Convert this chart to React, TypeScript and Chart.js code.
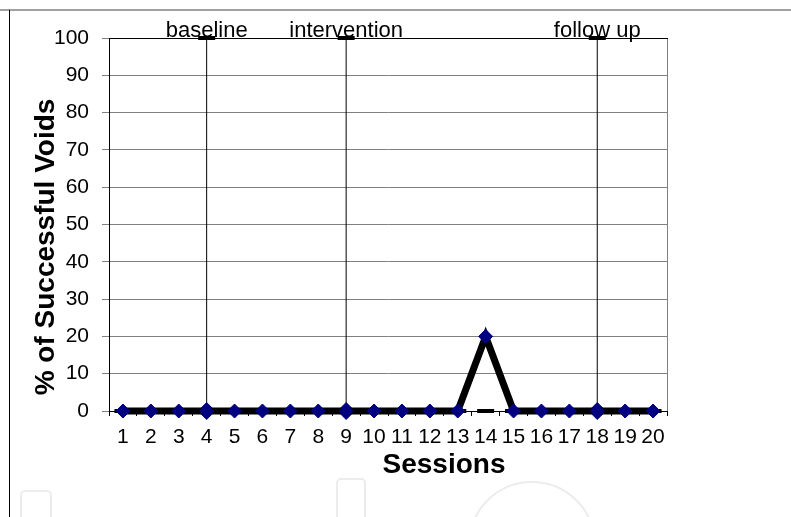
import React, { useEffect, useRef } from "react";
import { Chart, registerables } from "chart.js";

Chart.register(...registerables);

const sessions = ["1","2","3","4","5","6","7","8","9","10","11","12","13","14","15","16","17","18","19","20"];
const successfulVoids = [0,0,0,0,0,0,0,0,0,0,0,0,0,20,0,0,0,0,0,0];
const zeroMarks = [0,0,0,0,0,0,0,0,0,0,0,0,0,0,0,0,0,0,0,0];
const phaseChangeSessions = ["4", "9", "18"];
const phaseLabels = ["baseline", "intervention", "follow up"];
const yTitle = "% of Successful Voids";
const xTitle = "Sessions";

const FONT = '"Liberation Sans", Arial, Helvetica, sans-serif';

export default function App() {
  const ref = useRef<HTMLCanvasElement | null>(null);

  useEffect(() => {
    if (!ref.current) return;

    const phaseDatasets = phaseChangeSessions.map((s) => ({
      label: "phase " + s,
      data: [ { x: s, y: 0 }, { x: s, y: 100 } ],
      borderColor: "#000000",
      borderWidth: 1,
      showLine: true,
      pointStyle: ["rectRot", "line"] as any,
      pointRadius: [8.5, 8.5],
      pointBorderWidth: [1, 4],
      pointBackgroundColor: ["#000080", "#000000"],
      pointBorderColor: ["#000080", "#000000"],
      clip: false as any,
      order: 3,
    }));

    const labelPlugin = {
      id: "customText",
      beforeDatasetsDraw(chart: any) {
        const { ctx, chartArea } = chart;
        ctx.save();
        ctx.lineWidth = 1;
        ctx.strokeStyle = "#808080";
        ctx.beginPath();
        ctx.moveTo(chartArea.right + 0.5, chartArea.top);
        ctx.lineTo(chartArea.right + 0.5, chartArea.bottom);
        ctx.stroke();
        ctx.strokeStyle = "#000000";
        ctx.beginPath();
        ctx.moveTo(chartArea.left, chartArea.top + 0.5);
        ctx.lineTo(chartArea.right + 1, chartArea.top + 0.5);
        ctx.stroke();
        ctx.restore();
      },
      afterDraw(chart: any) {
        const { ctx, chartArea, scales } = chart;
        ctx.save();
        ctx.fillStyle = "#000000";
        // phase labels
        ctx.font = "22px " + FONT;
        ctx.textAlign = "center";
        ctx.textBaseline = "alphabetic";
        phaseChangeSessions.forEach((s, i) => {
          const x = scales.x.getPixelForValue(sessions.indexOf(s));
          ctx.fillText(phaseLabels[i], x, chartArea.top - 1);
        });
        // axis titles
        ctx.font = "bold 28px " + FONT;
        ctx.textBaseline = "middle";
        ctx.fillText(xTitle, 444, 465);
        ctx.translate(46, 247);
        ctx.rotate(-Math.PI / 2);
        ctx.fillText(yTitle, 0, 0);
        ctx.restore();
      },
    };

    const chart = new Chart(ref.current, {
      type: "line",
      data: {
        labels: sessions,
        datasets: [
          {
            label: "% of Successful Voids",
            data: successfulVoids,
            borderColor: "#000000",
            borderWidth: 7,
            pointStyle: "rectRot",
            pointRadius: 7,
            pointBorderWidth: 1,
            pointBackgroundColor: "#000080",
            pointBorderColor: "#000080",
            tension: 0,
            clip: false as any,
            order: 1,
          },
          {
            label: "zero",
            data: zeroMarks,
            showLine: false,
            pointStyle: "line",
            pointRadius: 8.5,
            pointBorderWidth: 4,
            pointBorderColor: "#000000",
            pointBackgroundColor: "#000000",
            clip: false as any,
            order: 2,
          },
          ...phaseDatasets,
        ] as any,
      },
      options: {
        animation: false,
        responsive: true,
        maintainAspectRatio: false,
        events: [],
        layout: { padding: { left: 0, top: 38, right: 124, bottom: 0 } },
        plugins: {
          legend: { display: false },
          tooltip: { enabled: false },
          title: { display: false },
        },
        scales: {
          x: {
            type: "category",
            offset: true,
            afterFit: (s: any) => { s.height = 106; },
            grid: {
              offset: true,
              drawOnChartArea: false,
              drawTicks: true,
              tickLength: 5,
              tickColor: "#000000",
            },
            border: { display: true, color: "#000000", width: 1 },
            ticks: {
              font: { size: 21, family: FONT },
              color: "#000000",
              padding: 9,
              maxRotation: 0,
              autoSkip: false,
            },
          },
          y: {
            type: "linear",
            min: 0,
            max: 100,
            afterFit: (s: any) => { s.width = 109; },
            grid: {
              color: "#808080",
              tickColor: "#808080",
              tickLength: 7,
              lineWidth: 1,
            },
            border: { display: true, color: "#000000", width: 1 },
            ticks: {
              stepSize: 10,
              font: { size: 21, family: FONT },
              color: "#000000",
              padding: 13,
            },
          },
        },
      },
      plugins: [labelPlugin],
    } as any);

    return () => chart.destroy();
  }, []);

  const faint = "2px solid #ececec";

  return (
    <div style={{ position: "fixed", left: 0, top: 0, width: 791, height: 517, background: "#ffffff", overflow: "hidden" }}>
      <div style={{ position: "absolute", left: 0, top: 9, width: 791, height: 2, background: "#a0a0a0" }} />
      <div style={{ position: "absolute", left: 9, top: 10, width: 1, height: 507, background: "#000000" }} />
      <div style={{ position: "absolute", left: 20, top: 490, width: 28, height: 40, border: faint, borderRadius: 5 }} />
      <div style={{ position: "absolute", left: 336, top: 478, width: 26, height: 50, border: faint, borderRadius: 5 }} />
      <div style={{ position: "absolute", left: 468, top: 481, width: 124, height: 124, border: faint, borderRadius: "50%" }} />
      <div style={{ position: "absolute", left: 0, top: 0, width: 791, height: 517 }}>
        <canvas ref={ref} />
      </div>
    </div>
  );
}
